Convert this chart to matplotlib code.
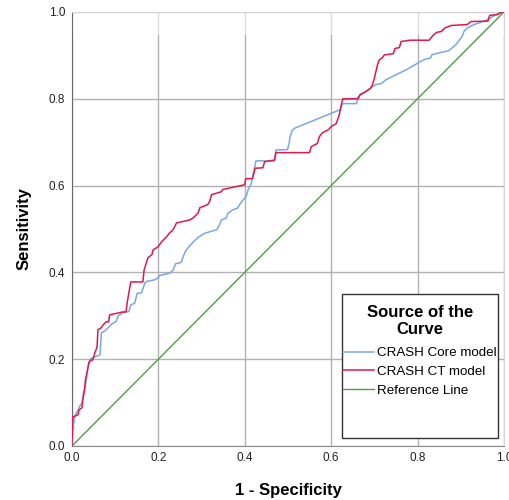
"""ROC curves for the CRASH Core and CRASH CT prognostic models."""

import matplotlib

matplotlib.use("Agg")
import matplotlib.pyplot as plt
from matplotlib.patches import Rectangle

# ROC points (1 - specificity, sensitivity)
core_fpr = [0.0, 0.001, 0.003, 0.006, 0.009, 0.014, 0.018, 0.023, 0.027, 0.031,
            0.035, 0.039, 0.044, 0.053, 0.065, 0.068, 0.076, 0.083, 0.092, 0.102,
            0.107, 0.118, 0.132, 0.136, 0.145, 0.151, 0.161, 0.169, 0.172, 0.192,
            0.200, 0.203, 0.226, 0.234, 0.240, 0.253, 0.258, 0.263, 0.269, 0.279,
            0.291, 0.307, 0.323, 0.335, 0.342, 0.346, 0.357, 0.361, 0.372, 0.383,
            0.388, 0.396, 0.403, 0.408, 0.415, 0.419, 0.426, 0.469, 0.472, 0.499,
            0.503, 0.505, 0.510, 0.515, 0.621, 0.625, 0.628, 0.659, 0.662, 0.670,
            0.696, 0.704, 0.716, 0.727, 0.774, 0.811, 0.820, 0.830, 0.834, 0.873,
            0.881, 0.889, 0.896, 0.903, 0.908, 0.915, 0.931, 0.952, 0.965, 0.982,
            1.0]
core_tpr = [0.0, 0.030, 0.048, 0.065, 0.074, 0.083, 0.092, 0.099, 0.125, 0.138,
            0.168, 0.194, 0.202, 0.205, 0.210, 0.261, 0.265, 0.272, 0.281, 0.287,
            0.300, 0.307, 0.310, 0.325, 0.329, 0.352, 0.353, 0.376, 0.379, 0.383,
            0.388, 0.393, 0.398, 0.405, 0.420, 0.423, 0.438, 0.449, 0.457, 0.468,
            0.480, 0.490, 0.495, 0.498, 0.510, 0.521, 0.525, 0.536, 0.544, 0.548,
            0.556, 0.567, 0.574, 0.591, 0.604, 0.625, 0.657, 0.657, 0.682, 0.683,
            0.699, 0.713, 0.727, 0.732, 0.775, 0.785, 0.789, 0.789, 0.804, 0.810,
            0.828, 0.833, 0.835, 0.844, 0.867, 0.888, 0.892, 0.894, 0.902, 0.911,
            0.918, 0.925, 0.934, 0.943, 0.956, 0.963, 0.971, 0.978, 0.984, 0.994,
            1.0]

ct_fpr = [0.0, 0.001, 0.002, 0.014, 0.016, 0.023, 0.025, 0.029, 0.031, 0.035,
          0.039, 0.044, 0.048, 0.053, 0.058, 0.060, 0.067, 0.072, 0.079, 0.085,
          0.087, 0.109, 0.118, 0.125, 0.128, 0.136, 0.164, 0.167, 0.176, 0.185,
          0.188, 0.199, 0.208, 0.219, 0.226, 0.234, 0.242, 0.273, 0.281, 0.292,
          0.296, 0.314, 0.319, 0.323, 0.346, 0.349, 0.400, 0.402, 0.418, 0.424,
          0.442, 0.446, 0.469, 0.472, 0.550, 0.554, 0.568, 0.573, 0.580, 0.594,
          0.600, 0.612, 0.619, 0.624, 0.627, 0.663, 0.667, 0.681, 0.691, 0.696,
          0.700, 0.707, 0.711, 0.719, 0.723, 0.744, 0.748, 0.758, 0.762, 0.783,
          0.827, 0.835, 0.844, 0.855, 0.863, 0.878, 0.915, 0.924, 0.963, 0.967,
          0.984, 0.995, 1.0]
ct_tpr = [0.0, 0.044, 0.067, 0.072, 0.083, 0.088, 0.106, 0.129, 0.152, 0.171,
          0.191, 0.198, 0.198, 0.215, 0.228, 0.268, 0.272, 0.279, 0.286, 0.286,
          0.302, 0.307, 0.309, 0.309, 0.332, 0.378, 0.378, 0.406, 0.434, 0.441,
          0.452, 0.459, 0.471, 0.482, 0.491, 0.498, 0.514, 0.521, 0.526, 0.537,
          0.549, 0.556, 0.564, 0.579, 0.586, 0.591, 0.602, 0.616, 0.616, 0.640,
          0.641, 0.655, 0.659, 0.676, 0.676, 0.690, 0.697, 0.713, 0.722, 0.729,
          0.736, 0.743, 0.764, 0.789, 0.800, 0.800, 0.810, 0.817, 0.824, 0.833,
          0.847, 0.877, 0.889, 0.895, 0.901, 0.904, 0.916, 0.918, 0.932, 0.935,
          0.935, 0.945, 0.953, 0.955, 0.963, 0.969, 0.971, 0.978, 0.979, 0.992,
          0.994, 1.0, 1.0]

ref_line = [0.0, 1.0]
ticks = [0.0, 0.2, 0.4, 0.6, 0.8, 1.0]
tick_labels = ["0.0", "0.2", "0.4", "0.6", "0.8", "1.0"]

plt.rcParams["font.family"] = ["Liberation Sans", "DejaVu Sans"]

fig = plt.figure(figsize=(5.1, 5.0), dpi=100)
ax = fig.add_axes([0.1412, 0.108, 0.8468, 0.868])

ax.plot(core_fpr, core_tpr, color="#78a8e4", lw=1.1, label="CRASH Core model", zorder=4)
ax.plot(ct_fpr, ct_tpr, color="#e2184b", lw=1.1, label="CRASH CT model", zorder=5)
ax.plot(ref_line, ref_line, color="#4f9e45", lw=1.0, label="Reference Line", zorder=3)

ax.set_xlim(0, 1)
ax.set_ylim(0, 1)
ax.set_xticks(ticks, tick_labels)
ax.set_yticks(ticks, tick_labels)
ax.tick_params(length=0, labelsize=8.5, colors="#222222")
ax.tick_params(axis="x", pad=4)
ax.tick_params(axis="y", pad=5)
ax.grid(True, color="#b2b2b2", lw=1.0, zorder=0)
ax.set_axisbelow(True)

# faint band along the top edge
ax.axhspan(0.947, 1.0, color="white", alpha=0.55, lw=0, zorder=1)

ax.spines["left"].set_color("#6a6a6a")
ax.spines["bottom"].set_color("#8c8c8c")
ax.spines["top"].set_color("#d4d4d4")
ax.spines["right"].set_color("#d4d4d4")

ax.set_xlabel("1 - Specificity", fontsize=12, fontweight="bold", labelpad=14)
ax.set_ylabel("Sensitivity", fontsize=12, fontweight="bold", labelpad=12)

# legend panel: fixed-size frame, centred title, entries below
ax.add_patch(Rectangle((0.625, 0.018), 0.361, 0.332, transform=ax.transAxes,
                       facecolor="white", edgecolor="#333333", lw=1.0, zorder=6))
ax.text(0.8056, 0.288, "Source of the\nCurve", transform=ax.transAxes,
        ha="center", va="center", multialignment="center", linespacing=1.1,
        fontsize=12, fontweight="bold", zorder=7)
leg = ax.legend(loc="upper center", bbox_to_anchor=(0.8056, 0.228),
                frameon=False, fontsize=9.6,
                handlelength=2.3, handletextpad=0.25, labelspacing=0.47,
                borderaxespad=0, borderpad=0)
leg.set_zorder(7)

fig.savefig("out.png", dpi=100)
